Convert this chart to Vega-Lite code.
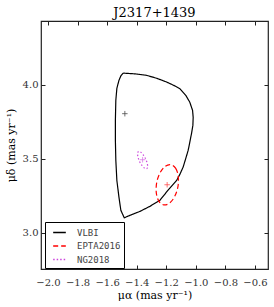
{
  "$schema": "https://vega.github.io/schema/vega-lite/v6.json",
  "autosize": "none",
  "width": 227,
  "height": 248,
  "padding": {"left": 41, "top": 21, "right": 6, "bottom": 38},
  "background": "white",
  "title": {"text": "J2317+1439", "font": "DejaVu Serif", "fontSize": 13, "fontWeight": "normal", "color": "black", "offset": 1, "anchor": "middle"},
  "config": {
    "view": {"stroke": "#222", "strokeWidth": 1.2},
    "axis": {"grid": false, "domain": false, "tickColor": "#222", "tickSize": -4, "labelFont": "DejaVu Serif", "labelFontSize": 10, "labelColor": "#333", "titleFont": "DejaVu Serif", "titleFontSize": 11, "titleFontWeight": "normal", "titleColor": "black"},
    "legend": {"strokeColor": "black", "fillColor": "white", "padding": 3, "symbolType": "stroke", "symbolSize": 160, "symbolStrokeWidth": 1.5, "labelFont": "DejaVu Sans Mono", "labelFontSize": 9, "labelColor": "#444", "labelOffset": 10, "rowPadding": 0.5, "symbolOffset": 4}
  },
  "datasets": {
    "vlbi": [
      {"s": "VLBI", "i": 1, "x": -1.491, "y": 4.078},
      {"s": "VLBI", "i": 2, "x": -1.412, "y": 4.073},
      {"s": "VLBI", "i": 3, "x": -1.333, "y": 4.063},
      {"s": "VLBI", "i": 4, "x": -1.264, "y": 4.043},
      {"s": "VLBI", "i": 5, "x": -1.198, "y": 4.018},
      {"s": "VLBI", "i": 6, "x": -1.149, "y": 3.995},
      {"s": "VLBI", "i": 7, "x": -1.108, "y": 3.973},
      {"s": "VLBI", "i": 8, "x": -1.068, "y": 3.928},
      {"s": "VLBI", "i": 9, "x": -1.041, "y": 3.882},
      {"s": "VLBI", "i": 10, "x": -1.022, "y": 3.826},
      {"s": "VLBI", "i": 11, "x": -1.018, "y": 3.779},
      {"s": "VLBI", "i": 12, "x": -1.020, "y": 3.725},
      {"s": "VLBI", "i": 13, "x": -1.029, "y": 3.671},
      {"s": "VLBI", "i": 14, "x": -1.041, "y": 3.610},
      {"s": "VLBI", "i": 15, "x": -1.052, "y": 3.556},
      {"s": "VLBI", "i": 16, "x": -1.068, "y": 3.502},
      {"s": "VLBI", "i": 17, "x": -1.086, "y": 3.443},
      {"s": "VLBI", "i": 18, "x": -1.108, "y": 3.394},
      {"s": "VLBI", "i": 19, "x": -1.130, "y": 3.353},
      {"s": "VLBI", "i": 20, "x": -1.189, "y": 3.286},
      {"s": "VLBI", "i": 21, "x": -1.243, "y": 3.219},
      {"s": "VLBI", "i": 22, "x": -1.311, "y": 3.178},
      {"s": "VLBI", "i": 23, "x": -1.378, "y": 3.144},
      {"s": "VLBI", "i": 24, "x": -1.446, "y": 3.117},
      {"s": "VLBI", "i": 25, "x": -1.484, "y": 3.101},
      {"s": "VLBI", "i": 26, "x": -1.507, "y": 3.151},
      {"s": "VLBI", "i": 27, "x": -1.520, "y": 3.241},
      {"s": "VLBI", "i": 28, "x": -1.534, "y": 3.353},
      {"s": "VLBI", "i": 29, "x": -1.541, "y": 3.489},
      {"s": "VLBI", "i": 30, "x": -1.544, "y": 3.624},
      {"s": "VLBI", "i": 31, "x": -1.544, "y": 3.759},
      {"s": "VLBI", "i": 32, "x": -1.541, "y": 3.894},
      {"s": "VLBI", "i": 33, "x": -1.534, "y": 3.975},
      {"s": "VLBI", "i": 34, "x": -1.520, "y": 4.029},
      {"s": "VLBI", "i": 35, "x": -1.507, "y": 4.059},
      {"s": "VLBI", "i": 36, "x": -1.491, "y": 4.078}
    ],
    "ell": [
      {"s": "EPTA2016", "i": 1, "x": -1.169, "y": 3.460},
      {"s": "EPTA2016", "i": 2, "x": -1.136, "y": 3.435},
      {"s": "EPTA2016", "i": 3, "x": -1.119, "y": 3.381},
      {"s": "EPTA2016", "i": 4, "x": -1.121, "y": 3.311},
      {"s": "EPTA2016", "i": 5, "x": -1.143, "y": 3.245},
      {"s": "EPTA2016", "i": 6, "x": -1.178, "y": 3.200},
      {"s": "EPTA2016", "i": 7, "x": -1.217, "y": 3.188},
      {"s": "EPTA2016", "i": 8, "x": -1.250, "y": 3.213},
      {"s": "EPTA2016", "i": 9, "x": -1.267, "y": 3.267},
      {"s": "EPTA2016", "i": 10, "x": -1.265, "y": 3.337},
      {"s": "EPTA2016", "i": 11, "x": -1.243, "y": 3.403},
      {"s": "EPTA2016", "i": 12, "x": -1.208, "y": 3.448},
      {"s": "NG2018", "i": 1, "x": -1.388, "y": 3.548},
      {"s": "NG2018", "i": 2, "x": -1.374, "y": 3.545},
      {"s": "NG2018", "i": 3, "x": -1.357, "y": 3.527},
      {"s": "NG2018", "i": 4, "x": -1.340, "y": 3.500},
      {"s": "NG2018", "i": 5, "x": -1.329, "y": 3.470},
      {"s": "NG2018", "i": 6, "x": -1.326, "y": 3.445},
      {"s": "NG2018", "i": 7, "x": -1.332, "y": 3.433},
      {"s": "NG2018", "i": 8, "x": -1.346, "y": 3.435},
      {"s": "NG2018", "i": 9, "x": -1.363, "y": 3.453},
      {"s": "NG2018", "i": 10, "x": -1.380, "y": 3.480},
      {"s": "NG2018", "i": 11, "x": -1.391, "y": 3.511},
      {"s": "NG2018", "i": 12, "x": -1.394, "y": 3.535}
    ],
    "cross": [
      {"s": "VLBI", "x": -1.480, "y": 3.804},
      {"s": "EPTA2016", "x": -1.194, "y": 3.324},
      {"s": "NG2018", "x": -1.360, "y": 3.493}
    ]
  },
  "layer": [
    {
      "data": {"name": "vlbi"},
      "mark": {"type": "line", "strokeWidth": 1.2, "interpolate": "linear"},
      "encoding": {
        "x": {"field": "x", "type": "quantitative", "scale": {"domain": [-2.047, -0.512], "nice": false, "zero": false}, "axis": {"orient": "bottom", "values": [-2.0, -1.8, -1.6, -1.4, -1.2, -1.0, -0.8, -0.6], "format": ".1f", "labelPadding": 12, "title": "μα (mas yr⁻¹)", "titleY": 20, "titleBaseline": "top"}},
        "y": {"field": "y", "type": "quantitative", "scale": {"domain": [2.755, 4.43], "nice": false, "zero": false}, "axis": {"orient": "left", "values": [3.0, 3.5, 4.0], "format": ".1f", "labelPadding": 7, "title": "μδ (mas yr⁻¹)", "titlePadding": 6}},
        "order": {"field": "i", "type": "quantitative"},
        "color": {"field": "s", "type": "nominal", "scale": {"domain": ["VLBI", "EPTA2016", "NG2018"], "range": ["#000000", "#ff0000", "#cc44dd"]}, "legend": {"title": null, "orient": "none", "legendX": 4, "legendY": 201}},
        "strokeDash": {"field": "s", "type": "nominal", "scale": {"domain": ["VLBI", "EPTA2016", "NG2018"], "range": [[1, 0], [5, 3], [1.5, 2]]}, "legend": {"title": null, "orient": "none", "legendX": 4, "legendY": 201}}
      }
    },
    {
      "data": {"name": "ell"},
      "mark": {"type": "line", "strokeWidth": 1.2, "interpolate": "cardinal-closed"},
      "encoding": {
        "x": {"field": "x", "type": "quantitative", "axis": null},
        "y": {"field": "y", "type": "quantitative", "axis": null},
        "order": {"field": "i", "type": "quantitative"},
        "detail": {"field": "s"},
        "color": {"field": "s", "type": "nominal"},
        "strokeDash": {"field": "s", "type": "nominal"}
      }
    },
    {
      "data": {"name": "cross"},
      "mark": {"type": "point", "shape": "M-1,0L1,0M0,-1L0,1", "filled": false, "size": 30, "strokeWidth": 0.8},
      "encoding": {
        "x": {"field": "x", "type": "quantitative", "axis": {"orient": "top", "values": [-2.0, -1.8, -1.6, -1.4, -1.2, -1.0, -0.8, -0.6], "labels": false, "title": null}},
        "y": {"field": "y", "type": "quantitative", "axis": {"orient": "right", "values": [3.0, 3.5, 4.0], "labels": false, "title": null}},
        "stroke": {"field": "s", "type": "nominal", "scale": {"domain": ["VLBI", "EPTA2016", "NG2018"], "range": ["#000000", "#ff0000", "#cc44dd"]}, "legend": null}
      }
    }
  ],
  "resolve": {"axis": {"x": "independent", "y": "independent"}}
}
